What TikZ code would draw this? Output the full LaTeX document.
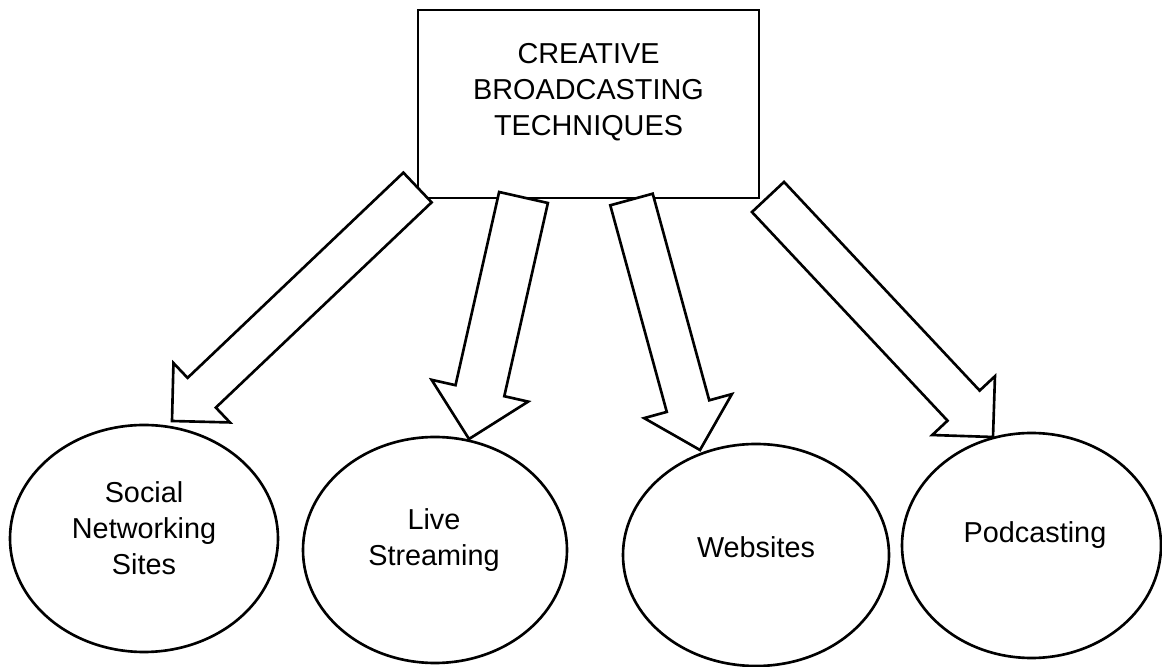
\documentclass[tikz,border=0pt]{standalone}
\usepackage{fontspec}
\setmainfont{Liberation Sans}
\usetikzlibrary{calc,shapes.geometric}

% hollow block arrow: #1 tail, #2 tip, #3 half shaft width, #4 half head width
\newcommand{\fatarrow}[4]{%
  \coordinate (fa-base) at ($(#2)!#4!(#1)$);
  \draw[fat] ($(#1)!#3!90:(#2)$) -- ($(fa-base)!#3!-90:(#1)$) -- ($(fa-base)!#4!-90:(#1)$) -- (#2)
    -- ($(fa-base)!#4!90:(#1)$) -- ($(fa-base)!#3!90:(#1)$) -- ($(#1)!#3!-90:(#2)$) -- cycle;}

\begin{document}
\begin{tikzpicture}[line width=1.5pt,
    box/.style={draw,rectangle,minimum width=6.82cm,minimum height=3.76cm,inner sep=0pt},
    bubble/.style={draw,ellipse,inner sep=0pt},
    txt/.style={align=center,inner sep=0pt,font=\fontsize{16.4pt}{20.5pt}\selectfont},
    fat/.style={fill=white,line join=miter}]
  \useasboundingbox (0,0) rectangle (23.24,13.34);
  % title box
  \node[box] (cbt) at (11.77,11.26) {};
  \node[txt] (cbt-t) at (11.77,11.49) {CREATIVE\\BROADCASTING\\TECHNIQUES};
  % the four topics
  \node[bubble,minimum width=5.36cm,minimum height=4.54cm] (soc) at (2.88,2.57) {};
  \node[txt] (soc-t) at (2.88,2.78) {Social\\Networking\\Sites};
  \node[bubble,minimum width=5.28cm,minimum height=4.52cm] (live) at (8.70,2.34) {};
  \node[txt] (live-t) at (8.68,2.54) {Live\\Streaming};
  \node[bubble,minimum width=5.32cm,minimum height=4.44cm] (web) at (15.12,2.24) {};
  \node[txt] (web-t) at (15.12,2.40) {Websites};
  \node[bubble,minimum width=5.18cm,minimum height=4.50cm] (pod) at (20.63,2.43) {};
  \node[txt] (pod-t) at (20.70,2.64) {Podcasting};
  % arrow ends
  \coordinate (t1) at (8.35,9.59);  \coordinate (p1) at (3.44,4.92);
  \coordinate (t2) at (10.47,9.39); \coordinate (p2) at (9.38,4.56);
  \coordinate (t3) at (12.63,9.35); \coordinate (p3) at (14.00,4.34);
  \coordinate (t4) at (15.36,9.40); \coordinate (p4) at (19.86,4.60);
  \fatarrow{t1}{p1}{0.41cm}{0.82cm}
  \fatarrow{t2}{p2}{0.50cm}{0.99cm}
  \fatarrow{t3}{p3}{0.44cm}{0.91cm}
  \fatarrow{t4}{p4}{0.44cm}{0.86cm}
\end{tikzpicture}
\end{document}
